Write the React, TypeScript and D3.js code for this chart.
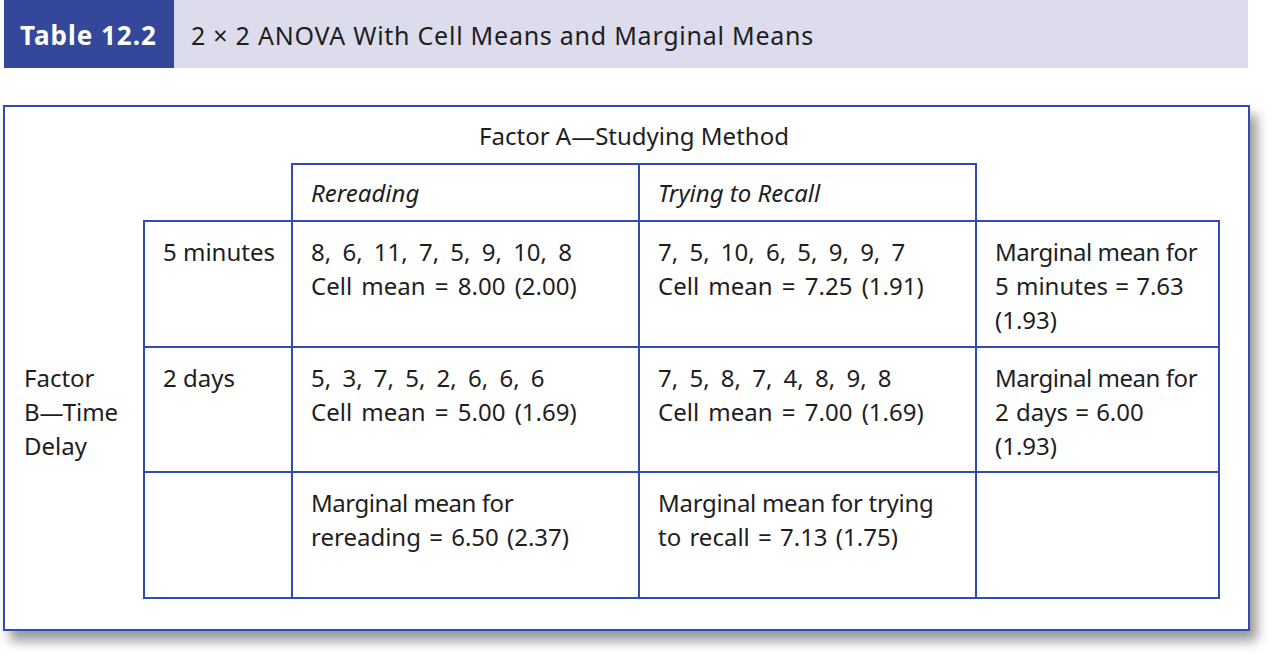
import React, { useEffect, useRef } from 'react';
import * as d3 from 'd3';

// table content
const tableLabel = 'Table 12.2';
const tableTitle = '2 × 2 ANOVA With Cell Means and Marginal Means';
const factorA = 'Factor A—Studying Method';
const factorB = ['Factor', 'B—Time', 'Delay'];
const methods = ['Rereading', 'Trying to Recall'];
const delays = ['5 minutes', '2 days'];
const scores = [
  ['8, 6, 11, 7, 5, 9, 10, 8', '7, 5, 10, 6, 5, 9, 9, 7'],
  ['5, 3, 7, 5, 2, 6, 6, 6', '7, 5, 8, 7, 4, 8, 9, 8'],
];
const cellMeans = [[8.0, 7.25], [5.0, 7.0]];
const cellSDs = [[2.0, 1.91], [1.69, 1.69]];
const rowMeans = [7.63, 6.0];
const rowSDs = [1.93, 1.93];
const colMeans = [6.5, 7.13];
const colSDs = [2.37, 1.75];

const W = 1275;
const H = 656;
const FONT = '"Noto Sans", sans-serif';
const BLUE_DARK = '#33489a';
const BAND = '#dcdcec';
const LINE = '#2f4bb8';
const TEXT = '#1e1e1e';

// grid edges
const colEdges = [144, 292, 639, 976, 1219];
const rowEdges = [164, 221, 347, 472, 598];

type Line = string | { s: string; ws?: number; ls?: number };

function App() {
  const ref = useRef<SVGSVGElement | null>(null);

  useEffect(() => {
    const svg = d3.select(ref.current);
    svg.selectAll('*').remove();

    const f2 = d3.format('.2f');

    const defs = svg.append('defs');
    const filt = defs.append('filter').attr('id', 'shadow')
      .attr('x', '-5%').attr('y', '-5%').attr('width', '115%').attr('height', '120%');
    filt.append('feDropShadow')
      .attr('dx', 7).attr('dy', 10).attr('stdDeviation', 6)
      .attr('flood-color', '#000').attr('flood-opacity', 0.4);

    // header band
    svg.append('rect').attr('x', 4).attr('y', 0).attr('width', 1244).attr('height', 68).attr('fill', BAND);
    svg.append('rect').attr('x', 4).attr('y', 0).attr('width', 170).attr('height', 68).attr('fill', BLUE_DARK);
    svg.append('text').attr('x', 20).attr('y', 45)
      .attr('font-family', FONT).attr('font-size', 26).attr('font-weight', 'bold')
      .attr('letter-spacing', 1).attr('fill', '#fff').text(tableLabel);
    svg.append('text').attr('x', 191).attr('y', 45)
      .attr('font-family', FONT).attr('font-size', 25).attr('letter-spacing', 0.75)
      .attr('fill', TEXT).text(tableTitle);

    // outer box
    svg.append('rect').attr('x', 4).attr('y', 106).attr('width', 1245).attr('height', 524)
      .attr('fill', '#fff').attr('stroke', LINE).attr('stroke-width', 2)
      .attr('filter', 'url(#shadow)');

    const g = svg.append('g').attr('stroke', LINE).attr('stroke-width', 2).attr('fill', 'none');
    // header row (method columns only)
    g.append('rect').attr('x', colEdges[1]).attr('y', rowEdges[0])
      .attr('width', colEdges[3] - colEdges[1]).attr('height', rowEdges[1] - rowEdges[0]);
    g.append('line').attr('x1', colEdges[2]).attr('x2', colEdges[2]).attr('y1', rowEdges[0]).attr('y2', rowEdges[1]);
    // body
    g.append('rect').attr('x', colEdges[0]).attr('y', rowEdges[1])
      .attr('width', colEdges[4] - colEdges[0]).attr('height', rowEdges[4] - rowEdges[1]);
    colEdges.slice(1, 4).forEach((x) => {
      g.append('line').attr('x1', x).attr('x2', x).attr('y1', rowEdges[1]).attr('y2', rowEdges[4]);
    });
    rowEdges.slice(2, 4).forEach((y) => {
      g.append('line').attr('x1', colEdges[0]).attr('x2', colEdges[4]).attr('y1', y).attr('y2', y);
    });

    const lh = 34;
    const block = (x: number, y: number, lines: Line[], italic = false) => {
      const t = svg.append('text').attr('font-family', FONT).attr('font-size', 24)
        .attr('fill', TEXT).attr('font-style', italic ? 'italic' : 'normal');
      lines.forEach((l, i) => {
        const o = typeof l === 'string' ? { s: l } : l;
        t.append('tspan').attr('x', x).attr('y', y + i * lh)
          .attr('word-spacing', o.ws ?? 0).attr('letter-spacing', o.ls ?? 0).text(o.s);
      });
    };

    const pad = 19;
    const first = 40; // baseline offset from row top

    svg.append('text').attr('x', (colEdges[1] + colEdges[3]) / 2).attr('y', 145)
      .attr('text-anchor', 'middle').attr('font-family', FONT).attr('font-size', 24)
      .attr('fill', TEXT).text(factorA);

    methods.forEach((m, j) => block(colEdges[j + 1] + pad, rowEdges[0] + first - 2, [m], true));

    block(24, rowEdges[2] + first, factorB);

    const marg = { s: 'Marginal mean for', ls: -0.45 };

    delays.forEach((d, i) => {
      const top = rowEdges[i + 1];
      block(colEdges[0] + pad, top + first, [d]);
      methods.forEach((_, j) => {
        block(colEdges[j + 1] + pad, top + first, [
          { s: scores[i][j], ws: 5 },
          { s: `Cell mean = ${f2(cellMeans[i][j])} (${f2(cellSDs[i][j])})`, ws: 3 },
        ]);
      });
      block(colEdges[3] + pad, top + first, [
        marg,
        { s: `${d} = ${f2(rowMeans[i])}`, ws: 1 },
        `(${f2(rowSDs[i])})`,
      ]);
    });

    const top3 = rowEdges[3];
    block(colEdges[1] + pad, top3 + first, [
      marg,
      { s: `${methods[0].toLowerCase()} = ${f2(colMeans[0])} (${f2(colSDs[0])})`, ws: 2 },
    ]);
    block(colEdges[2] + pad, top3 + first, [
      { s: 'Marginal mean for trying', ls: -0.3 },
      { s: `to recall = ${f2(colMeans[1])} (${f2(colSDs[1])})`, ws: 2 },
    ]);
  }, []);

  return (
    <svg ref={ref} width={W} height={H}
      style={{ position: 'absolute', left: 0, top: 0, background: '#fff' }} />
  );
}

export default App;
